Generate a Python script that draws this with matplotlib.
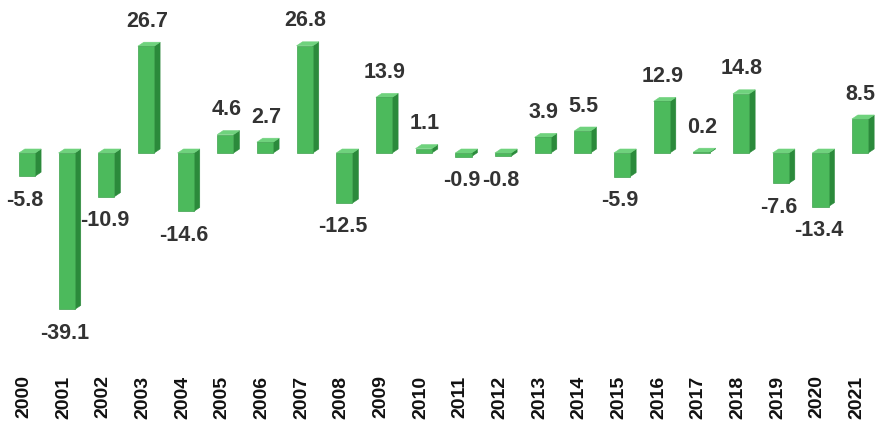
import matplotlib
matplotlib.use("Agg")
import matplotlib.pyplot as plt
from matplotlib.patches import Polygon

years = [str(y) for y in range(2000, 2022)]
values = [-5.8, -39.1, -10.9, 26.7, -14.6, 4.6, 2.7, 26.8, -12.5, 13.9, 1.1,
          -0.9, -0.8, 3.9, 5.5, -5.9, 12.9, 0.2, 14.8, -7.6, -13.4, 8.5]

front_col = "#4cba5c"
side_col = "#2b8a3b"
top_col = "#6fd27d"

fig = plt.figure(figsize=(8.79, 4.21), dpi=100)
ax = fig.add_axes([0, 0, 1, 1])
step = 39.67
ax.set_xlim(-27 / step, -27 / step + 879 / step)
ax.set_ylim(-(421 - 153) / 4.0, 153 / 4.0)
ax.axis("off")

width = 0.41
dx, dy = 0.15, 1.0
xs = list(range(len(values)))

label_font = ["Liberation Sans", "DejaVu Sans"]
year_font = ["Liberation Sans", "DejaVu Sans"]

ax.bar(xs, values, width=width, color=front_col, edgecolor="#3fa24e",
       linewidth=0.5, zorder=3)

for x, v in zip(xs, values):
    left, right = x - width / 2, x + width / 2
    lo, hi = min(0, v), max(0, v)
    # right-hand side face
    ax.add_patch(Polygon([(right, lo), (right + dx, lo + dy), (right + dx, hi + dy), (right, hi)],
                         closed=True, facecolor=side_col, edgecolor=side_col, lw=0.4, zorder=2))
    # top face
    ax.add_patch(Polygon([(left, hi), (left + dx, hi + dy), (right + dx, hi + dy), (right, hi)],
                         closed=True, facecolor=top_col, edgecolor=top_col, lw=0.4, zorder=2))
    if v >= 0:
        ax.text(x + 0.02, hi + dy + 5.2, f"{v:.1f}", ha="center", va="center",
                fontsize=15.5, fontweight="bold", color="#333333", family=label_font)
    else:
        ax.text(x - 0.05, lo - 6.0, f"{v:.1f}", ha="center", va="center",
                fontsize=15.5, fontweight="bold", color="#333333", family=label_font)
    ax.text(x - 0.08, -61, years[x], ha="center", va="center", rotation=90,
            fontsize=14, fontweight="bold", color="#111111", family=year_font)

fig.savefig("out.png", dpi=100, facecolor="white")
